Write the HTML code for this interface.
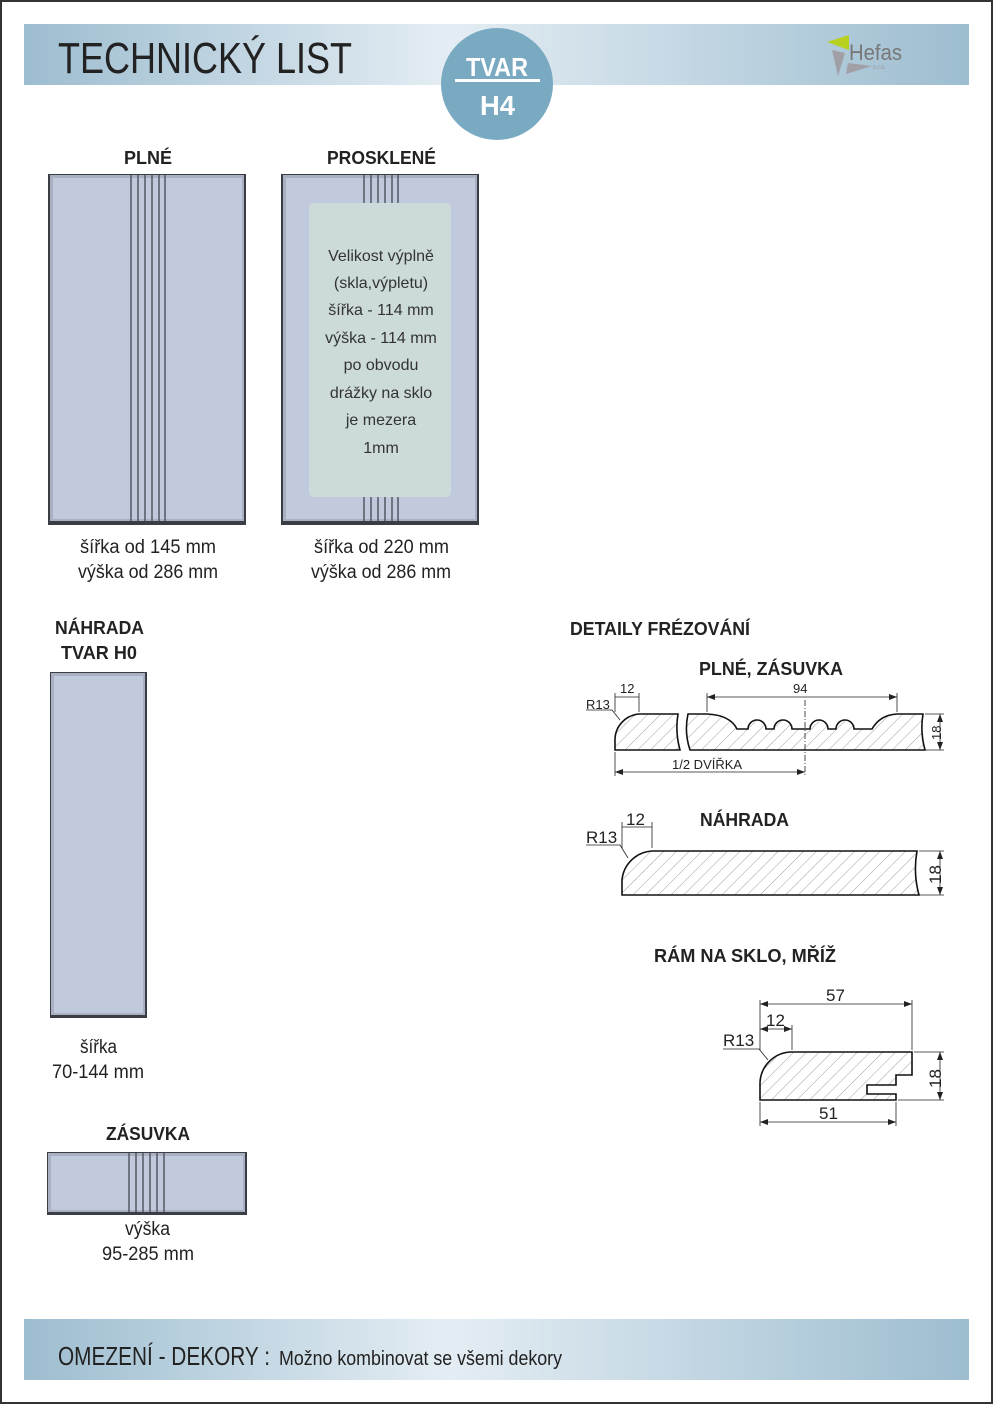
<!DOCTYPE html>
<html><head><meta charset="utf-8"><style>
html,body{margin:0;padding:0;background:#fff}
svg{display:block}
text{font-family:"Liberation Sans",sans-serif}
</style></head><body>
<svg width="993" height="1404" viewBox="0 0 993 1404" xmlns="http://www.w3.org/2000/svg">
<defs>
<radialGradient id="band" cx="0.5" cy="0.5" r="0.6" gradientTransform="scale(1,1)">
<stop offset="0" stop-color="#e8f0f5"/><stop offset="0.55" stop-color="#d3e2eb"/><stop offset="1" stop-color="#9dbdd0"/>
</radialGradient>
<linearGradient id="bandh" x1="0" x2="1" y1="0" y2="0">
<stop offset="0" stop-color="#9dbdd0"/><stop offset="0.45" stop-color="#e4edf3"/><stop offset="1" stop-color="#9dbdd0"/>
</linearGradient>
<pattern id="hatch" width="9" height="9" patternUnits="userSpaceOnUse" patternTransform="rotate(45)">
<line x1="0" y1="0" x2="0" y2="9" stroke="#888" stroke-width="0.8"/>
</pattern>
<marker id="ar" markerWidth="8" markerHeight="6" refX="8" refY="3" orient="auto-start-reverse" markerUnits="userSpaceOnUse">
<path d="M0,0 L8,3 L0,6 z" fill="#222"/></marker>
</defs>
<rect x="1" y="1" width="991" height="1402" fill="#fff" stroke="#333" stroke-width="2"/>

<!-- header -->
<rect x="24" y="24" width="945" height="61" fill="url(#bandh)"/>
<text x="58" y="73" font-size="44" fill="#222" textLength="294" lengthAdjust="spacingAndGlyphs">TECHNICKÝ LIST</text>
<ellipse cx="497" cy="84" rx="56" ry="56" fill="#7aa9c2"/>
<text x="466" y="76" font-size="26" font-weight="bold" fill="#fff" textLength="62" lengthAdjust="spacingAndGlyphs">TVAR</text>
<rect x="455" y="79" width="85" height="3" fill="#fff"/>
<text x="480" y="115" font-size="28" font-weight="bold" fill="#fff" textLength="35" lengthAdjust="spacingAndGlyphs">H4</text>
<!-- logo -->
<polygon points="827,42 849,35 849,50" fill="#b8d020"/>
<polygon points="832,50 845,53 838,76" fill="#a0a0a6"/>
<polygon points="848,63 872,66 846,74" fill="#a0a0a6"/>
<text x="849" y="60" font-size="22" fill="#777" textLength="53" lengthAdjust="spacingAndGlyphs">Hefas</text>
<text x="873" y="69" font-size="6" fill="#999">s.r.o.</text>

<!-- PLNÉ -->
<text x="124" y="164" font-size="18" font-weight="bold" fill="#222" textLength="48" lengthAdjust="spacingAndGlyphs">PLNÉ</text>
<rect x="48" y="174" width="198" height="351" fill="#3a3d44"/>
<rect x="50" y="175" width="194" height="346" fill="#a8b0c2"/>
<rect x="53" y="178" width="189" height="341" fill="#c1c9dc"/>
<g stroke="#5a5f6c" stroke-width="1.6">
<line x1="131" y1="175" x2="131" y2="521"/><line x1="138" y1="175" x2="138" y2="521"/><line x1="145" y1="175" x2="145" y2="521"/><line x1="152" y1="175" x2="152" y2="521"/><line x1="159" y1="175" x2="159" y2="521"/><line x1="165" y1="175" x2="165" y2="521"/>
</g>
<text x="80" y="553" font-size="19" fill="#222" textLength="136" lengthAdjust="spacingAndGlyphs">šířka od 145 mm</text>
<text x="78" y="578" font-size="19" fill="#222" textLength="140" lengthAdjust="spacingAndGlyphs">výška od 286 mm</text>

<!-- PROSKLENÉ -->
<text x="327" y="164" font-size="18" font-weight="bold" fill="#222" textLength="109" lengthAdjust="spacingAndGlyphs">PROSKLENÉ</text>
<rect x="281" y="174" width="198" height="351" fill="#3a3d44"/>
<rect x="283" y="175" width="194" height="346" fill="#a8b0c2"/>
<rect x="286" y="178" width="189" height="341" fill="#c1c9dc"/>
<g stroke="#5a5f6c" stroke-width="1.6">
<line x1="364" y1="175" x2="364" y2="521"/><line x1="371" y1="175" x2="371" y2="521"/><line x1="378" y1="175" x2="378" y2="521"/><line x1="385" y1="175" x2="385" y2="521"/><line x1="392" y1="175" x2="392" y2="521"/><line x1="398" y1="175" x2="398" y2="521"/>
</g>
<rect x="309" y="203" width="142" height="294" rx="5" fill="#ccdada"/>
<g font-size="16" fill="#333" text-anchor="middle">
<text x="381" y="261">Velikost výplně</text>
<text x="381" y="288">(skla,výpletu)</text>
<text x="381" y="315">šířka - 114 mm</text>
<text x="381" y="343">výška - 114 mm</text>
<text x="381" y="370">po obvodu</text>
<text x="381" y="398">drážky na sklo</text>
<text x="381" y="425">je mezera</text>
<text x="381" y="453">1mm</text>
</g>
<text x="314" y="553" font-size="19" fill="#222" textLength="135" lengthAdjust="spacingAndGlyphs">šířka od 220 mm</text>
<text x="311" y="578" font-size="19" fill="#222" textLength="140" lengthAdjust="spacingAndGlyphs">výška od 286 mm</text>

<!-- NÁHRADA -->
<text x="55" y="634" font-size="18" font-weight="bold" fill="#222" textLength="89" lengthAdjust="spacingAndGlyphs">NÁHRADA</text>
<text x="61" y="659" font-size="18" font-weight="bold" fill="#222" textLength="76" lengthAdjust="spacingAndGlyphs">TVAR H0</text>
<rect x="50" y="672" width="97" height="346" fill="#3a3d44"/>
<rect x="51" y="673" width="94" height="342" fill="#a8b0c2"/>
<rect x="54" y="676" width="89" height="337" fill="#c1c9dc"/>
<text x="80" y="1053" font-size="19" fill="#222" textLength="37" lengthAdjust="spacingAndGlyphs">šířka</text>
<text x="52" y="1078" font-size="19" fill="#222" textLength="92" lengthAdjust="spacingAndGlyphs">70-144 mm</text>

<!-- ZÁSUVKA -->
<text x="106" y="1140" font-size="18" font-weight="bold" fill="#222" textLength="84" lengthAdjust="spacingAndGlyphs">ZÁSUVKA</text>
<rect x="47" y="1152" width="200" height="63" fill="#3a3d44"/>
<rect x="48" y="1153" width="197" height="59" fill="#a8b0c2"/>
<rect x="51" y="1156" width="192" height="54" fill="#c1c9dc"/>
<g stroke="#5a5f6c" stroke-width="1.6">
<line x1="129" y1="1153" x2="129" y2="1212"/><line x1="136" y1="1153" x2="136" y2="1212"/><line x1="143" y1="1153" x2="143" y2="1212"/><line x1="150" y1="1153" x2="150" y2="1212"/><line x1="157" y1="1153" x2="157" y2="1212"/><line x1="164" y1="1153" x2="164" y2="1212"/>
</g>
<text x="125" y="1235" font-size="19" fill="#222" textLength="45" lengthAdjust="spacingAndGlyphs">výška</text>
<text x="102" y="1260" font-size="19" fill="#222" textLength="92" lengthAdjust="spacingAndGlyphs">95-285 mm</text>

<!-- DETAILS -->
<text x="570" y="635" font-size="18" font-weight="bold" fill="#222" textLength="180" lengthAdjust="spacingAndGlyphs">DETAILY FRÉZOVÁNÍ</text>
<text x="699" y="675" font-size="18" font-weight="bold" fill="#222" textLength="144" lengthAdjust="spacingAndGlyphs">PLNÉ, ZÁSUVKA</text>

<g stroke="#111" stroke-width="1.6" fill="url(#hatch)">
<path d="M615,750 L615,740 A26,26 0 0 1 639,714 L678,714 Q675,732 680,750 Z"/>
<path d="M688,714 L707,714 Q730,715 737,729 L748,729 A9,9 0 0 1 766,729 L774,729 A9,9 0 0 1 792,729 L810,729 A9,9 0 0 1 828,729 L836,729 A9,9 0 0 1 854,729 L872,729 Q880,715 897,714 L923,714 Q920,732 925,750 L690,750 Q684,732 688,714 Z"/>
</g>
<g stroke="#222" stroke-width="0.8" fill="none">
<line x1="805" y1="700" x2="805" y2="776" stroke-dasharray="6,2,1,2"/>
<line x1="615" y1="752" x2="615" y2="776"/>
<line x1="615" y1="772" x2="805" y2="772" marker-start="url(#ar)" marker-end="url(#ar)"/>
<line x1="615" y1="693" x2="615" y2="712"/><line x1="639" y1="693" x2="639" y2="712"/>
<line x1="615" y1="697" x2="639" y2="697"/>
<line x1="707" y1="693" x2="707" y2="712"/><line x1="897" y1="693" x2="897" y2="712"/>
<line x1="707" y1="697" x2="897" y2="697" marker-start="url(#ar)" marker-end="url(#ar)"/>
<line x1="925" y1="714" x2="944" y2="714"/><line x1="925" y1="750" x2="944" y2="750"/>
<line x1="940" y1="714" x2="940" y2="750" marker-start="url(#ar)" marker-end="url(#ar)"/>
<polyline points="586,710 612,710 620,720"/>
</g>
<g font-size="13" fill="#222">
<text x="620" y="693">12</text>
<text x="793" y="693">94</text>
<text x="586" y="709">R13</text>
<text x="672" y="769">1/2 DVÍŘKA</text>
<text transform="translate(941,740) rotate(-90)">18</text>
</g>

<text x="700" y="826" font-size="18" font-weight="bold" fill="#222" textLength="89" lengthAdjust="spacingAndGlyphs">NÁHRADA</text>
<path d="M622,895 L622,880 A32,32 0 0 1 652,851 L917,851 Q913,873 919,895 Z" stroke="#111" stroke-width="1.6" fill="url(#hatch)"/>
<g stroke="#222" stroke-width="0.8" fill="none">
<line x1="622" y1="822" x2="622" y2="848"/><line x1="652" y1="822" x2="652" y2="848"/>
<line x1="622" y1="827" x2="652" y2="827"/>
<polyline points="586,845 620,845 628,858"/>
<line x1="919" y1="851" x2="944" y2="851"/><line x1="919" y1="895" x2="944" y2="895"/>
<line x1="940" y1="851" x2="940" y2="895" marker-start="url(#ar)" marker-end="url(#ar)"/>
</g>
<g font-size="17" fill="#222">
<text x="626" y="825">12</text>
<text x="586" y="843">R13</text>
<text transform="translate(941,884) rotate(-90)">18</text>
</g>

<text x="654" y="962" font-size="18" font-weight="bold" fill="#222" textLength="182" lengthAdjust="spacingAndGlyphs">RÁM NA SKLO, MŘÍŽ</text>
<path d="M760,1100 L760,1085 A32,32 0 0 1 792,1052 L912,1052 L912,1075 L896,1075 L896,1085 L867,1085 L867,1094 L896,1094 L896,1100 Z" stroke="#111" stroke-width="1.6" fill="url(#hatch)"/>
<g stroke="#222" stroke-width="0.8" fill="none">
<line x1="760" y1="1000" x2="760" y2="1050"/><line x1="912" y1="1000" x2="912" y2="1050"/>
<line x1="760" y1="1004" x2="912" y2="1004" marker-start="url(#ar)" marker-end="url(#ar)"/>
<line x1="792" y1="1025" x2="792" y2="1050"/>
<line x1="760" y1="1029" x2="792" y2="1029" marker-start="url(#ar)" marker-end="url(#ar)"/>
<line x1="760" y1="1102" x2="760" y2="1126"/><line x1="896" y1="1102" x2="896" y2="1126"/>
<line x1="760" y1="1122" x2="896" y2="1122" marker-start="url(#ar)" marker-end="url(#ar)"/>
<polyline points="723,1049 759,1049 768,1060"/>
<line x1="914" y1="1052" x2="944" y2="1052"/><line x1="898" y1="1100" x2="944" y2="1100"/>
<line x1="940" y1="1052" x2="940" y2="1100" marker-start="url(#ar)" marker-end="url(#ar)"/>
</g>
<g font-size="17" fill="#222">
<text x="826" y="1001">57</text>
<text x="766" y="1026">12</text>
<text x="723" y="1046">R13</text>
<text x="819" y="1119">51</text>
<text transform="translate(941,1088) rotate(-90)">18</text>
</g>

<!-- footer -->
<rect x="24" y="1319" width="945" height="61" fill="url(#bandh)"/>
<text x="58" y="1365" font-size="26" fill="#222" textLength="212" lengthAdjust="spacingAndGlyphs">OMEZENÍ - DEKORY :</text>
<text x="279" y="1365" font-size="20" fill="#222" textLength="283" lengthAdjust="spacingAndGlyphs">Možno kombinovat se všemi dekory</text>
</svg>
</body></html>
